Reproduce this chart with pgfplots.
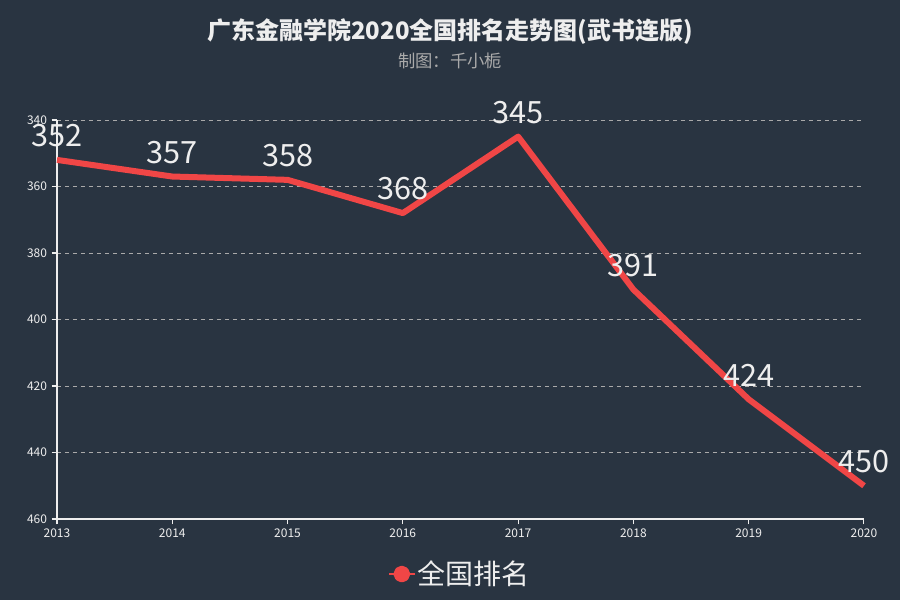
\documentclass[border=0pt]{standalone}
\usepackage{pgfplots}
\pgfplotsset{compat=1.18}
\usepackage{fontspec}
\setmainfont{Noto Sans CJK SC}
\definecolor{bg}{HTML}{293441}
\definecolor{rankred}{HTML}{F04646}
\definecolor{txt}{HTML}{EEEEEE}
\definecolor{subt}{HTML}{AAAAAA}
\definecolor{gridc}{HTML}{AAAAAA}
\begin{document}
\begin{tikzpicture}
\fill[bg] (0,0) rectangle (675pt,450pt);
\node[text=txt,font=\bfseries\fontsize{18}{20}\selectfont] at (337.5pt,426.5pt) {广东金融学院2020全国排名走势图(武书连版)};
\node[text=subt,font=\fontsize{13}{15}\selectfont] at (337.5pt,404pt) {制图：千小栀};
\begin{axis}[
    at={(42.75pt,60.75pt)}, anchor=south west,
    scale only axis,
    width=605.25pt, height=299.25pt,
    xmin=2013, xmax=2020,
    ymin=340, ymax=460,
    y dir=reverse,
    xtick={2013,...,2020},
    ytick={340,360,...,460},
    /pgf/number format/1000 sep={},
    /pgf/number format/assume math mode=true,
    tick label style={text=txt,font=\fontsize{9}{10}\selectfont},
    axis x line*=bottom,
    axis y line*=left,
    axis line style={draw=txt,line width=0.8pt,-},
    tick style={draw=txt,line width=0.8pt},
    tick align=outside,
    major tick length=4pt,
    ymajorgrids,
    grid style={dashed,draw=gridc,line width=0.5pt},
    clip=false,
    nodes near coords,
    point meta=explicit symbolic,
    every node near coord/.append style={text=txt,font=\fontsize{23}{24}\selectfont,anchor=south,inner sep=0pt,yshift=7.5pt},
    legend style={at={(axis description cs:0.5,-0.138)},anchor=center,draw=none,fill=none,text=txt,font=\fontsize{21}{24}\selectfont},
    legend image code/.code={
        \draw[rankred,line width=1.2pt] (0pt,0pt) -- (19pt,0pt);
        \fill[rankred] (9.5pt,0pt) circle (4pt);
    },
]
\addplot[rankred,line width=4.5pt,line join=round] coordinates {
    (2013,352) [352]
    (2014,357) [357]
    (2015,358) [358]
    (2016,368) [368]
    (2017,345) [345]
    (2018,391) [391]
    (2019,424) [424]
    (2020,450) [450]
};
\addlegendentry{全国排名}
\end{axis}
\end{tikzpicture}
\end{document}
